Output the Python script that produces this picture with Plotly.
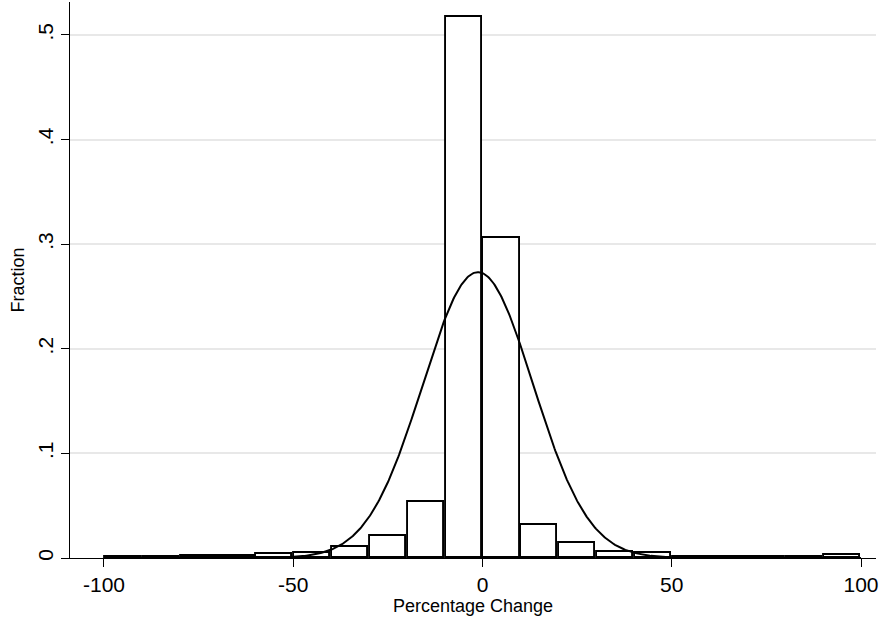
import numpy as np
import plotly.graph_objects as go

# Histogram bins (left edges, width 10) and fractions
bin_left = [-100, -90, -80, -70, -60, -50, -40, -30, -20, -10,
            0, 10, 20, 30, 40, 50, 60, 70, 80, 90]
fraction = [0.0012, 0.0006, 0.0015, 0.002, 0.0038, 0.005, 0.0105, 0.021, 0.0535, 0.517,
            0.306, 0.032, 0.014, 0.0055, 0.005, 0.0012, 0.0006, 0.0006, 0.0008, 0.003]
bin_width = 10

# Normal overlay parameters (estimated from the curve)
norm_mean = -1.2
norm_sd = 14.6

y_tickvals = [0, 0.1, 0.2, 0.3, 0.4, 0.5]
y_ticktext = ["0", ".1", ".2", ".3", ".4", ".5"]
x_tickvals = [-100, -50, 0, 50, 100]
x_ticktext = ["-100", "-50", "0", "50", "100"]

bin_center = [b + bin_width / 2 for b in bin_left]
xs = np.linspace(-100, 100, 801)
ys = bin_width * np.exp(-0.5 * ((xs - norm_mean) / norm_sd) ** 2) / (norm_sd * np.sqrt(2 * np.pi))

fig = go.Figure()
fig.add_trace(go.Bar(
    x=bin_center, y=fraction, width=[bin_width * 0.955] * len(bin_center),
    marker=dict(color="white", line=dict(color="black", width=1.9)),
    showlegend=False, hoverinfo="skip"))
fig.add_trace(go.Scatter(
    x=xs, y=ys, mode="lines", line=dict(color="black", width=2),
    showlegend=False, hoverinfo="skip"))

font_family = "Liberation Sans, Arial, sans-serif"
fig.update_layout(
    width=883, height=620,
    margin=dict(l=70, r=7, t=2, b=62),
    paper_bgcolor="white", plot_bgcolor="white",
    font=dict(family=font_family, color="black"),
    bargap=0,
    xaxis=dict(
        range=[-108.98, 103.96], tickmode="array", tickvals=x_tickvals, ticktext=x_ticktext,
        ticks="outside", ticklen=8, tickwidth=1, tickcolor="black",
        showline=True, linecolor="black", linewidth=1,
        showgrid=False, zeroline=False,
        tickfont=dict(size=21, family=font_family),
        title=dict(text="Percentage Change", font=dict(size=18, family=font_family), standoff=2),
    ),
    yaxis=dict(
        range=[0, 0.5315], tickmode="array", tickvals=y_tickvals, ticktext=y_ticktext,
        ticks="outside", ticklen=8, tickwidth=1, tickcolor="black", tickangle=-90,
        showline=True, linecolor="black", linewidth=1,
        showgrid=True, gridcolor="#e8e8e8", gridwidth=1.5, zeroline=False,
        tickfont=dict(size=21, family=font_family),
        title=dict(text="Fraction", font=dict(size=18, family=font_family), standoff=4),
    ),
)
fig.write_html("out.html")
